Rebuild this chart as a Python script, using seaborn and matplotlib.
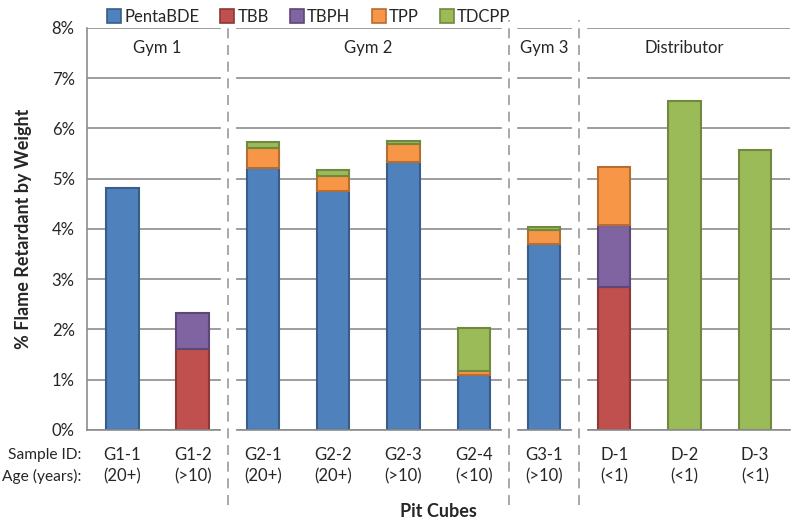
import numpy as np
import pandas as pd
import seaborn as sns
import matplotlib.pyplot as plt
from matplotlib.lines import Line2D
from matplotlib.ticker import PercentFormatter

# data (% by weight)
samples = ['G1-1', 'G1-2', 'G2-1', 'G2-2', 'G2-3', 'G2-4', 'G3-1', 'D-1', 'D-2', 'D-3']
ages = ['(20+)', '(>10)', '(20+)', '(20+)', '(>10)', '(<10)', '(>10)', '(<1)', '(<1)', '(<1)']
pentabde = [4.82, 0, 5.22, 4.76, 5.34, 1.10, 3.70, 0, 0, 0]
tbb = [0, 1.61, 0, 0, 0, 0, 0, 2.85, 0, 0]
tbph = [0, 0.72, 0, 0, 0, 0, 0, 1.22, 0, 0]
tpp = [0, 0, 0.39, 0.29, 0.36, 0.07, 0.28, 1.16, 0, 0]
tdcpp = [0, 0, 0.12, 0.12, 0.06, 0.86, 0.05, 0, 6.55, 5.58]

groups = ['Gym 1', 'Gym 2', 'Gym 3', 'Distributor']
group_sizes = [2, 4, 1, 3]

components = ['PentaBDE', 'TBB', 'TBPH', 'TPP', 'TDCPP']
values = [pentabde, tbb, tbph, tpp, tdcpp]
fills = ['#4F81BD', '#C0504D', '#8064A2', '#F79646', '#9BBB59']
edges = ['#385D8A', '#8C3836', '#5C4776', '#B66D31', '#71893F']

sns.set_style('white')
plt.rcParams['font.family'] = ['Lato', 'DejaVu Sans']

fig, ax = plt.subplots(figsize=(8, 5.25), dpi=100)
fig.subplots_adjust(left=0.109, right=0.9875, top=0.9467, bottom=0.181)

df = pd.DataFrame({'sample': samples})
for name, vals in zip(components, values):
    df[name] = vals

# stacked bars: one barplot per component, only where it is present
base = np.zeros(len(samples))
for name, fc, ec in zip(components, fills, edges):
    v = df[name].to_numpy()
    keep = v > 0
    sub = df[keep]
    sns.barplot(data=sub, x='sample', y=name, order=samples, bottom=base[keep],
                color=fc, saturation=1, width=0.46, edgecolor=ec, linewidth=1.5,
                errorbar=None, ax=ax, zorder=2)
    base = base + v

ax.set_xlim(-0.5, len(samples) - 0.5)
ax.set_ylim(0, 8)
ax.yaxis.set_major_formatter(PercentFormatter(decimals=0))
ax.set_yticks(range(0, 9))
ax.set_axisbelow(True)
ax.grid(axis='y', color='#8C8C8C', linewidth=1.2)
for s in ['top', 'right']:
    ax.spines[s].set_visible(False)
for s in ['left', 'bottom']:
    ax.spines[s].set_color('#8C8C8C')
    ax.spines[s].set_linewidth(1.2)

# category tick labels, tick marks between categories
ax.set_xticks(range(len(samples)))
ax.set_xticklabels([f'{s}\n{a}' for s, a in zip(samples, ages)], fontsize=12,
                   linespacing=1.45)
ax.tick_params(axis='x', length=0, pad=12)
ax.set_xticks(np.arange(len(samples) + 1) - 0.5, minor=True)
ax.tick_params(axis='x', which='minor', length=5, color='#8C8C8C', width=1.2)
ax.tick_params(axis='y', length=5, color='#8C8C8C', width=1.2, labelsize=12, pad=4)

ax.text(-0.58, -0.045, 'Sample ID:\nAge (years):', transform=ax.get_xaxis_transform(),
        ha='right', va='top', fontsize=11.2, linespacing=1.55)

ax.set_ylabel('% Flame Retardant by Weight', fontsize=13, fontweight='bold', labelpad=14)
ax.set_xlabel('Pit Cubes', fontsize=13, fontweight='bold', labelpad=13)

# group separators and titles
trans = ax.get_xaxis_transform()
start = 0
for i, (g, n) in enumerate(zip(groups, group_sizes)):
    ax.text(start + (n - 1) / 2, 7.6, g, ha='center', va='center', fontsize=12)
    start += n
    if i < len(groups) - 1:
        xs = start - 0.5
        ax.plot([xs, xs], [-0.03, 1.01], transform=trans, color='white',
                linewidth=11, clip_on=False, zorder=2.6, solid_capstyle='butt')
        ax.plot([xs, xs], [-0.187, 1.02], transform=trans, color='#9A9A9A',
                linewidth=1.2, dashes=(6, 4), clip_on=False, zorder=2.7)

handles = [Line2D([], [], marker='s', linestyle='none', markersize=10,
                  markerfacecolor=fc, markeredgecolor=ec, markeredgewidth=1.2)
           for fc, ec in zip(fills, edges)]
fig.legend(handles, components, loc='upper center', bbox_to_anchor=(0.385, 1.012),
           ncol=5, frameon=False, fontsize=12, handletextpad=0.1, columnspacing=1.2,
           handlelength=1.0)

fig.savefig('out.png', dpi=100)
